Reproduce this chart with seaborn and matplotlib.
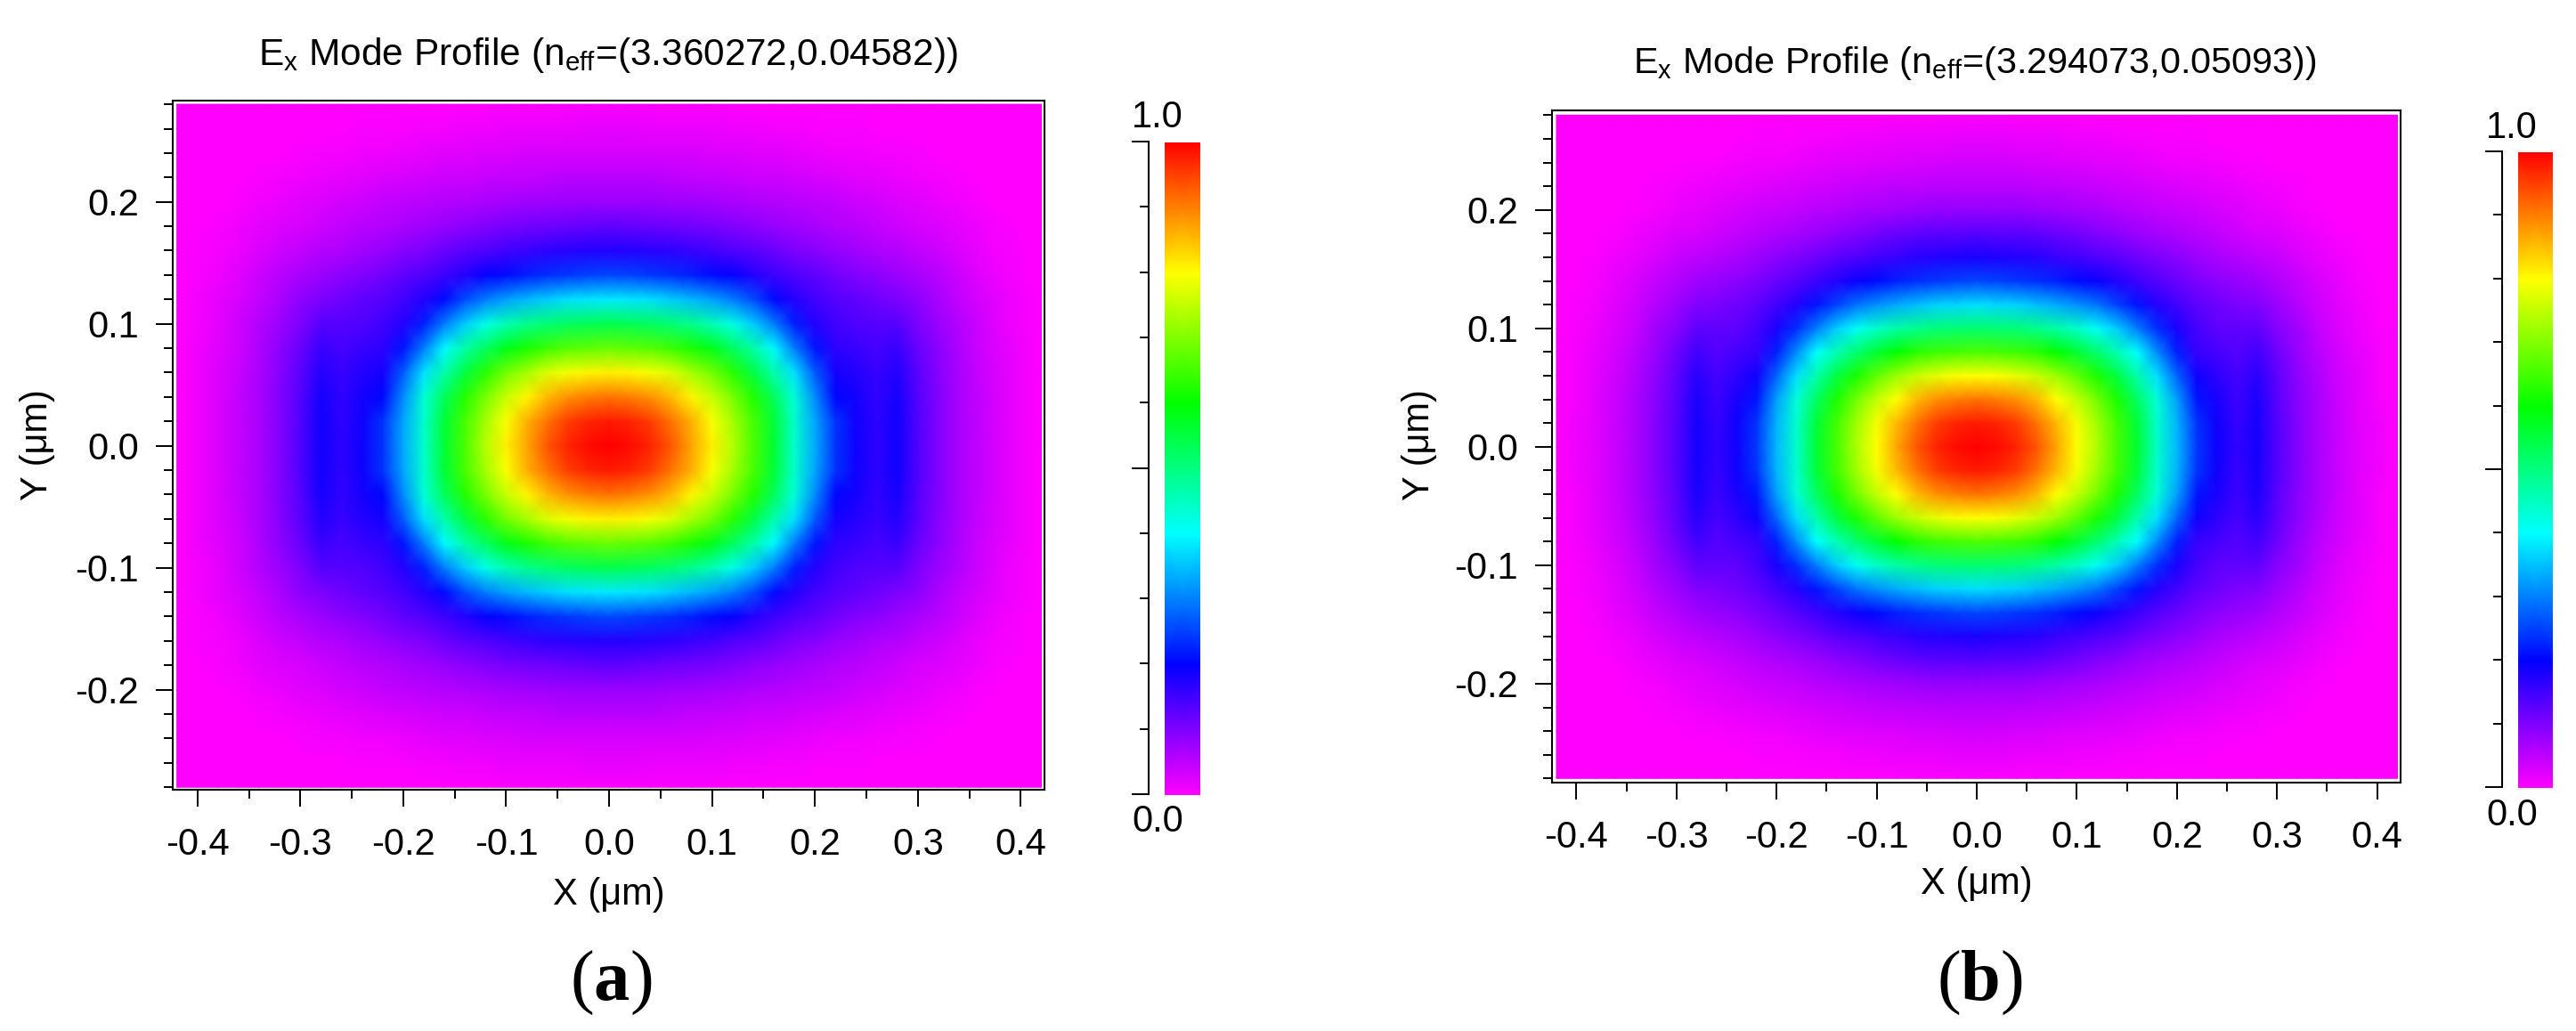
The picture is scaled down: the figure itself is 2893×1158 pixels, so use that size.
import numpy as np
import matplotlib
matplotlib.use("Agg")
import matplotlib.pyplot as plt
from matplotlib.colors import LinearSegmentedColormap
from matplotlib.patches import Rectangle
import seaborn as sns

sns.set_theme(style="ticks")
plt.rcParams["font.family"] = ["Liberation Sans", "DejaVu Sans"]
plt.rcParams["mathtext.default"] = "regular"
plt.rcParams["mathtext.fontset"] = "custom"
plt.rcParams["mathtext.bf"] = "Liberation Serif:bold"

W, H = 2893, 1158

# quadrant of each mode, x >= 0 (columns) and y >= 0 (rows), the picture is mirrored about both axes
x_um = [0.00, 0.02, 0.04, 0.06, 0.08, 0.10, 0.12, 0.14, 0.16, 0.18, 0.20,
        0.22, 0.24, 0.26, 0.28, 0.30, 0.32, 0.34, 0.36, 0.38, 0.40, 0.42]
y_um = [0.00, 0.02, 0.04, 0.06, 0.08, 0.10, 0.12, 0.14, 0.16, 0.18, 0.20, 0.22, 0.24, 0.26, 0.28]

ex_a = [
    [1.00, .99, .97, .93, .87, .81, .74, .66, .56, .44, .335, .24, .19, .165, .19, .14, .10, .07, .05, .03, .015, .002],
    [.98, .97, .95, .91, .86, .795, .73, .655, .555, .44, .33, .24, .19, .165, .19, .14, .10, .07, .05, .03, .015, .002],
    [.91, .90, .885, .855, .805, .755, .695, .625, .53, .43, .31, .205, .185, .162, .185, .135, .10, .07, .048, .03, .015, .002],
    [.81, .805, .79, .77, .73, .69, .63, .55, .465, .375, .27, .185, .175, .158, .175, .13, .095, .068, .045, .028, .013, .002],
    [.68, .675, .665, .645, .62, .58, .525, .47, .395, .30, .215, .165, .158, .148, .158, .12, .09, .065, .042, .025, .012, .002],
    [.54, .535, .525, .51, .49, .46, .42, .36, .30, .225, .175, .15, .14, .135, .135, .105, .08, .06, .04, .022, .01, .002],
    [.385, .38, .375, .36, .345, .325, .30, .26, .21, .175, .15, .135, .125, .115, .105, .09, .07, .05, .033, .02, .008, .001],
    [.255, .25, .245, .235, .225, .21, .197, .175, .155, .14, .125, .11, .10, .09, .08, .07, .055, .04, .025, .015, .006, 0],
    [.175, .172, .17, .165, .16, .15, .14, .13, .118, .105, .095, .085, .075, .065, .06, .05, .04, .03, .018, .01, .004, 0],
    [.125, .122, .12, .117, .113, .108, .10, .093, .085, .078, .07, .062, .055, .05, .042, .035, .028, .02, .012, .006, .002, 0],
    [.08, .08, .08, .078, .076, .073, .07, .065, .06, .056, .052, .047, .042, .037, .03, .024, .018, .012, .007, .003, .001, 0],
    [.055, .055, .055, .053, .05, .048, .045, .042, .04, .036, .032, .028, .024, .02, .016, .012, .008, .005, .003, .001, 0, 0],
    [.035, .035, .034, .033, .032, .03, .028, .026, .024, .021, .018, .015, .013, .01, .008, .005, .003, .002, 0, 0, 0, 0],
    [.02, .02, .019, .018, .017, .016, .014, .012, .011, .009, .007, .006, .004, .003, .002, .001, 0, 0, 0, 0, 0, 0],
    [.006, .006, .005, .005, .004, .004, .003, .003, .002, .002, .001, .001, 0, 0, 0, 0, 0, 0, 0, 0, 0, 0],
]
ex_b = [
    [1.00, .99, .97, .93, .87, .80, .735, .655, .56, .445, .345, .245, .19, .162, .185, .135, .10, .07, .045, .027, .012, .002],
    [.98, .97, .95, .91, .855, .79, .725, .65, .555, .44, .34, .24, .19, .16, .185, .135, .10, .07, .045, .027, .012, .002],
    [.91, .90, .885, .855, .80, .75, .69, .62, .525, .43, .325, .215, .18, .155, .18, .13, .095, .068, .043, .025, .011, .002],
    [.80, .795, .78, .755, .72, .675, .62, .55, .465, .375, .28, .19, .165, .148, .17, .125, .09, .063, .04, .024, .01, .002],
    [.66, .655, .645, .63, .60, .56, .515, .46, .40, .31, .225, .16, .148, .135, .152, .115, .085, .058, .037, .02, .009, .001],
    [.515, .51, .505, .49, .47, .445, .41, .36, .30, .235, .18, .145, .125, .125, .125, .095, .075, .05, .03, .017, .007, .001],
    [.375, .37, .365, .35, .335, .315, .29, .25, .215, .175, .15, .125, .115, .105, .10, .08, .06, .04, .025, .013, .005, .001],
    [.255, .25, .245, .235, .225, .21, .195, .175, .155, .135, .12, .105, .09, .085, .075, .06, .048, .032, .02, .01, .003, 0],
    [.18, .178, .175, .17, .16, .15, .14, .13, .115, .105, .09, .08, .07, .06, .052, .043, .033, .022, .013, .006, .002, 0],
    [.135, .132, .13, .125, .118, .11, .10, .092, .082, .073, .065, .057, .05, .042, .035, .028, .02, .013, .007, .003, 0, 0],
    [.085, .085, .083, .08, .077, .073, .068, .062, .056, .05, .045, .04, .034, .028, .022, .017, .011, .007, .003, .001, 0, 0],
    [.058, .058, .056, .054, .051, .048, .044, .04, .036, .032, .028, .024, .02, .016, .012, .008, .005, .002, .001, 0, 0, 0],
    [.036, .036, .035, .033, .031, .029, .026, .024, .021, .018, .015, .012, .01, .007, .005, .003, .001, 0, 0, 0, 0, 0],
    [.02, .02, .019, .018, .016, .015, .013, .011, .009, .007, .006, .004, .003, .002, .001, 0, 0, 0, 0, 0, 0, 0],
    [.006, .006, .005, .005, .004, .003, .003, .002, .002, .001, .001, 0, 0, 0, 0, 0, 0, 0, 0, 0, 0, 0],
]

titles = ["$E_x$ Mode Profile ($n_{eff}$=(3.360272,0.04582))",
          "$E_x$ Mode Profile ($n_{eff}$=(3.294073,0.05093))"]
panel_labels = ["(a)", "(b)"]
x_major = [-0.4, -0.3, -0.2, -0.1, 0.0, 0.1, 0.2, 0.3, 0.4]
y_major = [-0.2, -0.1, 0.0, 0.1, 0.2]
cbar_stops = [0.0, 0.2, 0.4, 0.6, 0.8, 1.0]
cbar_minor = [0.1, 0.2, 0.3, 0.4, 0.6, 0.7, 0.8, 0.9]
cbar_major = [0.0, 0.5, 1.0]

rainbow = LinearSegmentedColormap.from_list(
    "mode", ["#ff00ff", "#0000ff", "#00ffff", "#00ff00", "#ffff00", "#ff0000"])

TICK_SIZE = 30


def px_axes(fig, left, top, right, bottom):
    return fig.add_axes([left / W, 1 - bottom / H, (right - left) / W, (bottom - top) / H])


def mirrored(quadrant):
    q = np.array(quadrant, dtype=float)
    q = np.hstack([q[:, :0:-1], q])
    return np.vstack([q[:0:-1], q])


def plot_panel(fig, quadrant, title, label, lay):
    xs = np.r_[-np.array(x_um[:0:-1]), x_um]
    ys = np.r_[-np.array(y_um[:0:-1]), y_um]
    to_col = lambda v: (np.asarray(v) - xs[0]) / 0.02
    to_row = lambda v: (np.asarray(v) - ys[0]) / 0.02
    field = mirrored(quadrant)
    rows, cols = field.shape

    ax = px_axes(fig, *lay["axes"])
    sns.heatmap(field, ax=ax, cmap=rainbow, vmin=0, vmax=1, cbar=False,
                shading="gouraud", xticklabels=False, yticklabels=False)
    # gouraud blends rgb between nodes and washes out the bright bands,
    # so map colours after smoothing the same cells
    im = ax.imshow(field, cmap=rainbow, vmin=0, vmax=1, origin="lower", aspect="auto",
                   interpolation="bicubic", interpolation_stage="data",
                   extent=(-0.5, cols - 0.5, -0.5, rows - 0.5))
    im.set_clip_path(Rectangle((0, 0), cols - 1, rows - 1, transform=ax.transData))
    ax.set_xlim(to_col(lay["xlim"]))
    ax.set_ylim(to_row(lay["ylim"]))
    for side in ax.spines:
        ax.spines[side].set_visible(True)
        ax.spines[side].set_color("black")
        ax.spines[side].set_linewidth(1.5)

    ax.set_xticks(to_col(x_major))
    ax.set_xticklabels([f"{v:.1f}" for v in x_major], fontsize=TICK_SIZE, color="black")
    ax.set_yticks(to_row(y_major))
    ax.set_yticklabels([f"{v:.1f}" for v in y_major], fontsize=TICK_SIZE, color="black", rotation=0)
    ax.set_xticks(to_col(np.arange(-0.35, 0.4, 0.1)), minor=True)
    ax.set_yticks(to_row([v / 100 for v in range(-28, 29, 2) if v % 10]), minor=True)
    ax.tick_params(which="major", length=13.5, width=1.4, color="black", left=True, bottom=True)
    ax.tick_params(which="minor", length=7, width=1.4, color="black", left=True, bottom=True)
    ax.tick_params(axis="x", which="major", pad=17)
    ax.tick_params(axis="y", which="major", pad=14)

    def put(xp, yp, text, **kw):
        fig.text(xp / W, 1 - yp / H, text, ha="center", va="center", color="black", **kw)

    put(*lay["title"], title, fontsize=lay["title_size"])
    put(*lay["xlabel"], "X (μm)", fontsize=TICK_SIZE)
    put(*lay["ylabel"], "Y (μm)", fontsize=TICK_SIZE, rotation=90)
    put(*lay["label"], f"({'$\\mathbf{' + label[1] + '}$'})", fontsize=58, family="Liberation Serif")

    # gradient and its scale are separate axes, the scale sits left of the bar
    cax = px_axes(fig, *lay["bar"])
    sns.heatmap(np.array([cbar_stops, cbar_stops]).T, ax=cax, cmap=rainbow, vmin=0, vmax=1,
                cbar=False, shading="gouraud", xticklabels=False, yticklabels=False)
    cax.set_xlim(0, 1)
    cax.set_ylim(0, len(cbar_stops) - 1)
    cax.tick_params(left=False, bottom=False)

    sx = px_axes(fig, *lay["scale"])
    sx.patch.set_visible(False)
    sx.set_xticks([])
    sx.set_ylim(0, 1)
    sx.set_yticks(cbar_major)
    sx.set_yticklabels([])
    sx.set_yticks(cbar_minor, minor=True)
    sns.despine(ax=sx, top=True, right=True, left=False, bottom=True)
    sx.spines["left"].set_color("black")
    sx.spines["left"].set_linewidth(1.5)
    sx.tick_params(which="major", length=14, width=1.4, color="black", left=True)
    sx.tick_params(which="minor", length=7, width=1.4, color="black", left=True)
    put(*lay["top"], "1.0", fontsize=TICK_SIZE)
    put(*lay["bot"], "0.0", fontsize=TICK_SIZE)


layouts = [
    dict(axes=(194, 113, 1173, 887), xlim=(-0.424, 0.423), ylim=(-0.282, 0.283),
         title=(683, 62), title_size=30.5, xlabel=(684, 1005), ylabel=(42, 500), label=(686, 1104),
         bar=(1308, 160, 1348, 893), scale=(1290, 159, 1291, 892), top=(1300, 132), bot=(1300, 923)),
    dict(axes=(1743, 124, 2696, 879), xlim=(-0.4244, 0.4234), ylim=(-0.2835, 0.284),
         title=(2218, 71), title_size=29.8, xlabel=(2220, 993), ylabel=(1594, 500), label=(2223, 1104),
         bar=(2828, 171, 2867, 885), scale=(2810, 170, 2811, 884), top=(2821, 144), bot=(2821, 916)),
]

fig = plt.figure(figsize=(W / 100, H / 100), dpi=100, facecolor="white")
for quadrant, title, label, lay in zip([ex_a, ex_b], titles, panel_labels, layouts):
    plot_panel(fig, quadrant, title, label, lay)

fig.savefig("out.png", dpi=100)
